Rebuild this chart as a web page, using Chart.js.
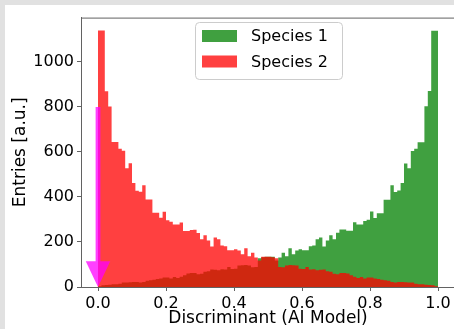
<!DOCTYPE html>
<html>
<head>
<meta charset="utf-8">
<script src="https://cdn.jsdelivr.net/npm/chart.js@4.4.0/dist/chart.umd.min.js"></script>
<style>
    html, body { margin: 0; padding: 0; background: #e1e1e1; overflow: hidden; }
    #frame { position: absolute; left: 5px; top: 5px; width: 449px; height: 324px; background: #fff; overflow: hidden; }
    #frame canvas { display: block; }
</style>
</head>
<body>
<div id="frame"><canvas id="hist" width="450" height="324"></canvas></div>
<script>
// histogram bins: 100 bins of width 0.01 between 0 and 1
const binWidth = 0.01;

const species1 = [
    3, 8, 9, 10, 12, 12, 14, 20, 20, 21,
    22, 22, 20, 22, 28, 30, 32, 35, 38, 42,
    42, 38, 44, 40, 46, 52, 60, 62, 62, 57,
    59, 68, 70, 78, 77, 74, 79, 78, 89, 80,
    81, 95, 97, 98, 96, 88, 89, 128, 132, 134,
    134, 134, 118, 131, 152, 137, 172, 145, 162, 168,
    163, 163, 181, 184, 212, 220, 180, 207, 230, 212,
    241, 255, 255, 250, 250, 288, 278, 278, 293, 299,
    335, 307, 328, 328, 388, 388, 452, 422, 429, 462,
    549, 528, 604, 614, 643, 643, 803, 871, 1139, 1139
];

const species2 = [
    1140, 1140, 870, 802, 644, 644, 614, 605, 528, 550,
    462, 428, 423, 452, 389, 389, 330, 330, 308, 334,
    297, 290, 278, 278, 287, 249, 249, 253, 254, 240,
    212, 230, 207, 180, 220, 212, 184, 181, 163, 163,
    168, 162, 145, 172, 137, 152, 131, 118, 134, 134,
    134, 132, 128, 89, 88, 96, 98, 97, 95, 81,
    80, 89, 78, 79, 74, 77, 78, 70, 68, 59,
    57, 62, 62, 60, 52, 46, 40, 44, 38, 42,
    42, 38, 35, 32, 30, 28, 22, 20, 22, 22,
    21, 20, 20, 14, 12, 12, 10, 9, 8, 3
];

const labels = ['Species 1', 'Species 2'];
const xTicks = [0, 0.2, 0.4, 0.6, 0.8, 1.0];
const yTicks = [0, 200, 400, 600, 800, 1000];

// magenta arrow pointing at x = 0
const arrowX = 0;
const arrowFrom = 800;
const arrowTo = 0;

const spineColor = '#626262';

// one point per bin edge, last point closes the histogram down to 0
const toSteps = (values) => values
    .map((v, i) => ({ x: i * binWidth, y: v }))
    .concat([{ x: values.length * binWidth, y: 0 }]);

const arrowPlugin = {
    id: 'arrow',
    afterDatasetsDraw(chart) {
        const { x, y } = chart.scales;
        const ctx = chart.ctx;
        const cx = x.getPixelForValue(arrowX);
        const shaft = x.getPixelForValue(arrowX + 0.007) - cx;
        const head = x.getPixelForValue(arrowX + 0.036) - cx;
        const yTop = y.getPixelForValue(arrowFrom);
        const yTip = y.getPixelForValue(arrowTo);
        const yHead = y.getPixelForValue(arrowTo + 114);
        ctx.save();
        ctx.fillStyle = 'rgba(255, 0, 255, 0.75)';
        ctx.beginPath();
        ctx.moveTo(cx - shaft, yTop);
        ctx.lineTo(cx + shaft, yTop);
        ctx.lineTo(cx + shaft, yHead);
        ctx.lineTo(cx + head, yHead);
        ctx.lineTo(cx, yTip);
        ctx.lineTo(cx - head, yHead);
        ctx.lineTo(cx - shaft, yHead);
        ctx.closePath();
        ctx.fill();
        ctx.restore();
    }
};

const framePlugin = {
    id: 'frame',
    afterDraw(chart) {
        const { ctx, chartArea } = chart;
        ctx.save();
        ctx.strokeStyle = spineColor;
        ctx.lineWidth = 1;
        ctx.beginPath();
        ctx.moveTo(chartArea.left, chartArea.top + 0.5);
        ctx.lineTo(chartArea.right, chartArea.top + 0.5);
        ctx.moveTo(chartArea.right - 0.5, chartArea.top);
        ctx.lineTo(chartArea.right - 0.5, chartArea.bottom);
        ctx.stroke();

        // legend box, top centre of the plot
        const box = { x: 190.5, y: 17.5, w: 147, h: 57, r: 4 };
        ctx.fillStyle = 'rgba(255, 255, 255, 0.8)';
        ctx.strokeStyle = '#cccccc';
        ctx.beginPath();
        ctx.roundRect(box.x, box.y, box.w, box.h, box.r);
        ctx.fill();
        ctx.stroke();

        ctx.font = '16px "DejaVu Sans"';
        ctx.textBaseline = 'middle';
        ctx.textAlign = 'left';
        chart.data.datasets.forEach((ds, i) => {
            const rowY = 31 + i * 25.5;
            ctx.fillStyle = ds.backgroundColor;
            ctx.fillRect(197, rowY - 6, 35, 12);
            ctx.fillStyle = '#000';
            ctx.fillText(ds.label, 246, rowY + 1);
        });
        ctx.restore();
    }
};

Chart.defaults.font.family = '"DejaVu Sans"';
Chart.defaults.color = '#000';

new Chart(document.getElementById('hist'), {
    type: 'line',
    data: {
        datasets: [
            {
                label: labels[0],
                data: toSteps(species1),
                backgroundColor: 'rgba(0, 128, 0, 0.75)',
                borderColor: 'rgba(0, 0, 0, 0)',
                borderWidth: 0,
                pointRadius: 0,
                stepped: true,
                fill: 'origin',
                order: 2,
            },
            {
                label: labels[1],
                data: toSteps(species2),
                backgroundColor: 'rgba(255, 0, 0, 0.75)',
                borderColor: 'rgba(0, 0, 0, 0)',
                borderWidth: 0,
                pointRadius: 0,
                stepped: true,
                fill: 'origin',
                order: 1,
            },
        ],
    },
    options: {
        responsive: false,
        animation: false,
        layout: { padding: { top: 8, right: 0, left: 0, bottom: 0 } },
        plugins: {
            legend: { display: false },
            tooltip: { enabled: false },
        },
        scales: {
            x: {
                type: 'linear',
                min: -0.05,
                max: 1.05,
                afterBuildTicks: (scale) => { scale.ticks = xTicks.map((v) => ({ value: v })); },
                afterFit: (scale) => { scale.height = 42; },
                ticks: {
                    font: { size: 16 },
                    padding: 3,
                    maxRotation: 0,
                    callback: (v) => Number(v).toFixed(1),
                },
                grid: { drawOnChartArea: false, drawTicks: true, tickLength: 4, tickColor: spineColor },
                border: { color: spineColor, width: 1, z: 1 },
                title: { display: true, text: 'Discriminant (AI Model)', font: { size: 17 }, padding: { top: 0, bottom: 0 } },
            },
            y: {
                min: 0,
                max: 1197,
                afterBuildTicks: (scale) => { scale.ticks = yTicks.map((v) => ({ value: v })); },
                afterFit: (scale) => { scale.width = 76; },
                ticks: { font: { size: 16 }, padding: 3, callback: (v) => String(v) },
                grid: { drawOnChartArea: false, drawTicks: true, tickLength: 4, tickColor: spineColor },
                border: { color: spineColor, width: 1, z: 1 },
                title: { display: true, text: 'Entries [a.u.]', font: { size: 17 }, padding: { top: 5, bottom: 0 } },
            },
        },
    },
    plugins: [arrowPlugin, framePlugin],
});
</script>
</body>
</html>
